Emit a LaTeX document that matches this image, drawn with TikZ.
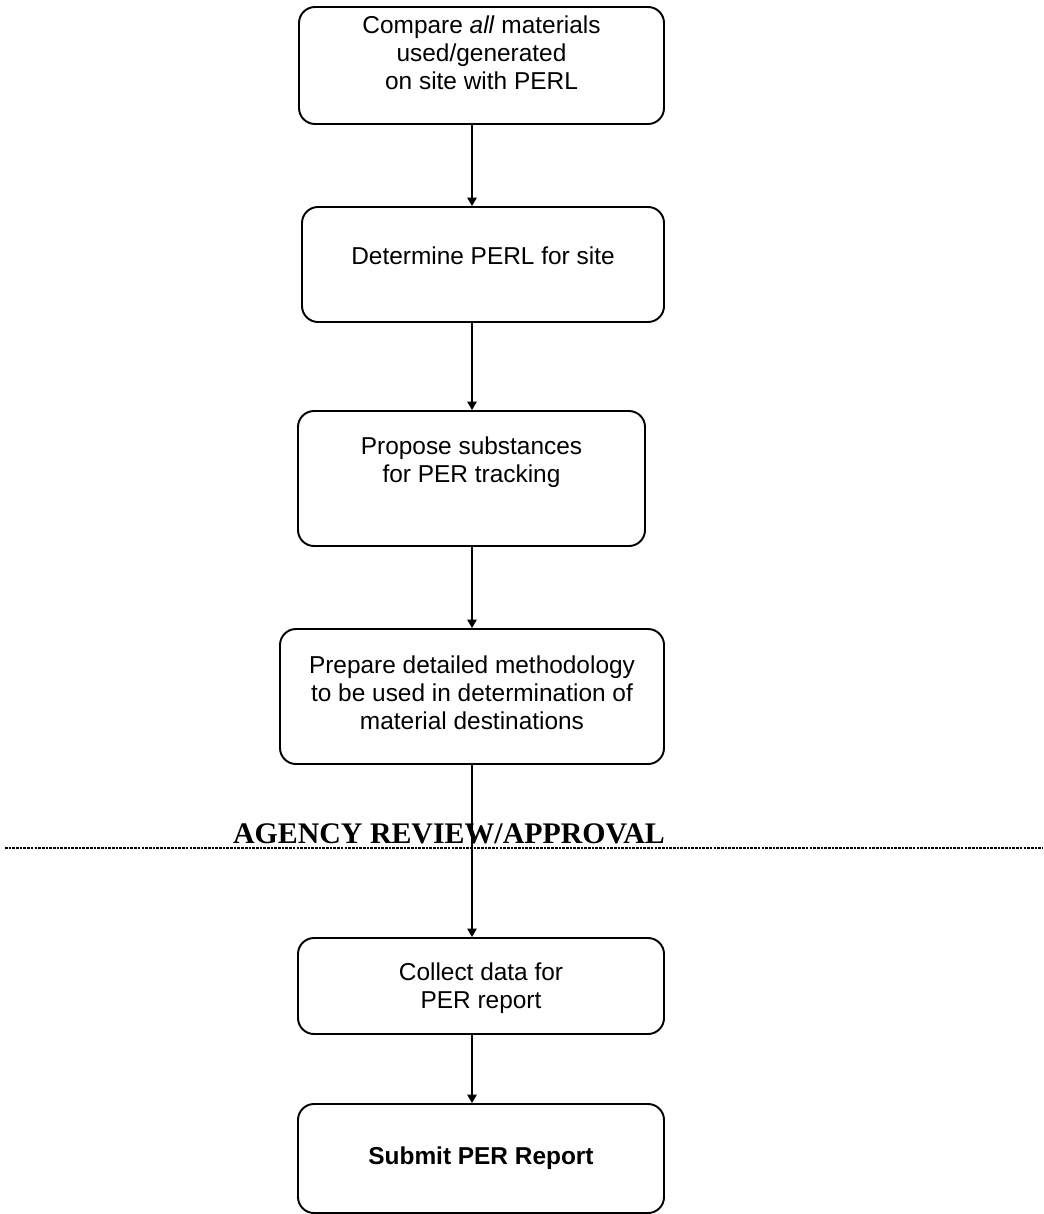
\documentclass[tikz,border=0pt]{standalone}
\usepackage{fontspec}
\setmainfont{Liberation Sans}
\newfontfamily\agencyfont{Liberation Serif}
\usetikzlibrary{arrows.meta,positioning}

\tikzset{
  stepbox/.style={draw, rounded corners=0.32cm, line width=1.1pt, inner sep=0pt},
  steptext/.style={align=center, inner sep=0pt, anchor=base,
    font=\fontsize{13.9pt}{15.9pt}\selectfont},
  flow/.style={-{Triangle[length=0.17cm,width=0.19cm]}, line width=0.8pt},
}

\begin{document}
\begin{tikzpicture}
\useasboundingbox (0,0) rectangle (20.86,-24.28);
\coordinate (spine) at (9.44,0);

% boxes
\node[stepbox, minimum width=7.30cm, minimum height=2.34cm] (compare) at (9.63,-1.31) {};
\node[stepbox, minimum width=7.24cm, minimum height=2.30cm] (perl) at (9.66,-5.29) {};
\node[stepbox, minimum width=6.94cm, minimum height=2.70cm] (propose) at (9.43,-9.57) {};
\node[stepbox, minimum width=7.68cm, minimum height=2.70cm] (method) at (9.44,-13.93) {};
\node[stepbox, minimum width=7.32cm, minimum height=1.92cm] (collect) at (9.62,-19.72) {};
\node[stepbox, minimum width=7.32cm, minimum height=2.18cm,
  font=\fontsize{13.9pt}{15.9pt}\selectfont\bfseries] (submit) at (9.62,-23.17) {Submit PER Report};

% texts (base = last line)
\node[steptext] (comparetxt) at ([yshift=-1.66cm]compare.north) {Compare \textit{all} materials\\used/generated\\on site with PERL};
\node[steptext] (perltxt) at ([yshift=-1.16cm]perl.north) {Determine PERL for site};
\node[steptext] (proposetxt) at ([yshift=-1.44cm]propose.north) {Propose substances\\for PER tracking};
\node[steptext] (methodtxt) at ([yshift=-2.02cm]method.north) {Prepare detailed methodology\\to be used in determination of\\material destinations};
\node[steptext] (collecttxt) at ([yshift=-1.42cm]collect.north) {Collect data for\\PER report};

% review line
\coordinate (rulel) at (0.10,-16.96);
\coordinate (ruler) at (20.86,-16.96);
\draw[line width=0.7pt, dash pattern=on 1.5pt off 0.6pt] (rulel) -- (ruler);
\node[inner sep=0pt, anchor=base, font=\agencyfont\fontsize{17pt}{20pt}\selectfont\bfseries]
  (review) at (8.98,-16.86) {AGENCY REVIEW/APPROVAL};

% arrows
\draw[flow] (compare.south -| spine) -- (perl.north -| spine);
\draw[flow] (perl.south -| spine) -- (propose.north -| spine);
\draw[flow] (propose.south -| spine) -- (method.north -| spine);
\draw[flow] (method.south -| spine) -- (collect.north -| spine);
\draw[flow] (collect.south -| spine) -- (submit.north -| spine);
\end{tikzpicture}
\end{document}
